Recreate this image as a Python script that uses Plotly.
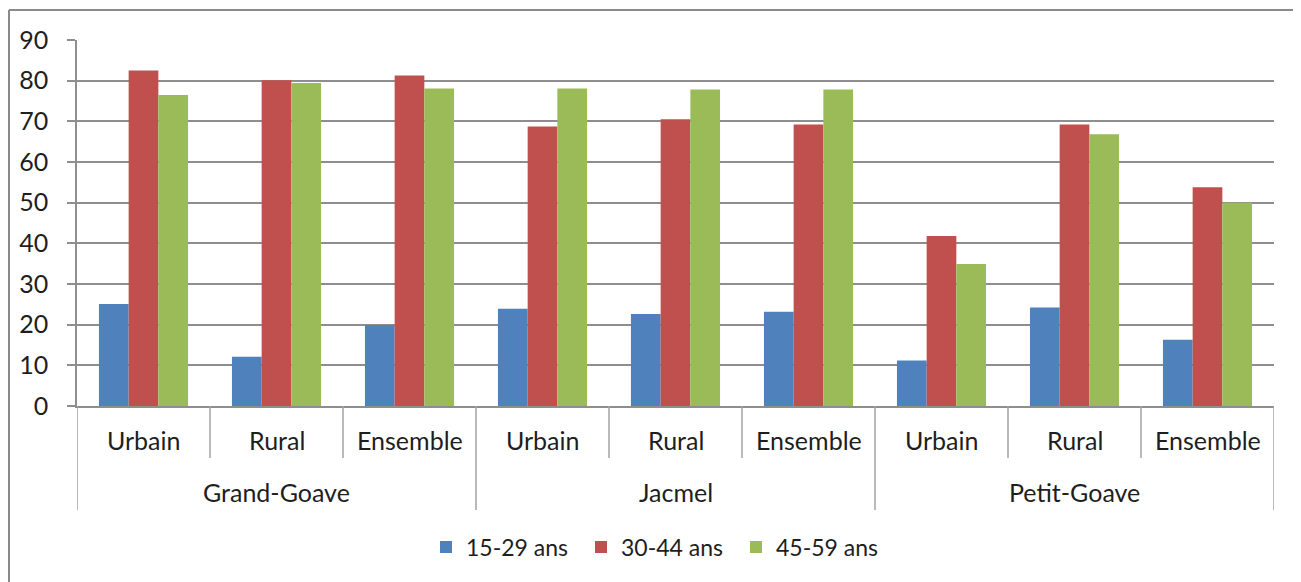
import plotly.graph_objects as go

groups = ["Grand-Goave", "Jacmel", "Petit-Goave"]
zones = ["Urbain", "Rural", "Ensemble"]
series_names = ["15-29 ans", "30-44 ans", "45-59 ans"]
v_15_29 = [25.1, 12.1, 19.9, 23.9, 22.6, 23.2, 11.2, 24.2, 16.3]
v_30_44 = [82.5, 80.1, 81.3, 68.7, 70.5, 69.2, 41.8, 69.2, 53.8]
v_45_59 = [76.5, 79.4, 78.1, 78.1, 77.8, 77.8, 34.9, 66.8, 50.0]
colors = ["#4F81BD", "#C0504D", "#9BBB59"]

# the page has an 8px body margin, so the figure is drawn at (8, 8)
OFF = 8
W, H = 1301, 582
ML, MT = 77 - OFF, 40 - OFF
PW, PH = 1197, 366
MR = W - ML - PW
MB = H - MT - PH

def py(px_below_axis):
    return -px_below_axis / PH

def px_x(page_x):
    return (page_x - OFF - ML) / PW

def px_y(page_y):
    return (MT + PH - (page_y - OFF)) / PH

labels_x = [f"{g} {z}" for g in groups for z in zones]
idx = list(range(len(labels_x)))

fig = go.Figure()
for name, vals, col in zip(series_names, [v_15_29, v_30_44, v_45_59], colors):
    fig.add_trace(go.Bar(x=idx, y=vals, name=name, marker=dict(color=col, line=dict(width=0))))

font = "Lato, 'Open Sans', sans-serif"
txt = "#1E1E1E"
grid = "#8E8E8E"
sep = "#A3A3A3"
FS = 25

annotations = []
for gi, g in enumerate(groups):
    for zi, z in enumerate(zones):
        annotations.append(dict(x=gi * len(zones) + zi, y=py(34), xref="x", yref="paper",
                                text=z, showarrow=False, yanchor="middle",
                                font=dict(family=font, size=FS, color=txt)))
    annotations.append(dict(x=gi * len(zones) + (len(zones) - 1) / 2, y=py(86), xref="x", yref="paper",
                            text=g, showarrow=False, yanchor="middle",
                            font=dict(family=font, size=FS, color=txt)))

shapes = []
n = len(labels_x)
for i in range(n + 1):
    is_group = (i % len(zones) == 0)
    shapes.append(dict(type="line", xref="x", yref="paper", x0=i - 0.5, x1=i - 0.5,
                       y0=0, y1=py(104 if is_group else 52),
                       line=dict(color=sep, width=1.5)))
# outer chart frame: only top and left edges are visible
frame = dict(color="#8A8A8A", width=2)
shapes.append(dict(type="line", xref="paper", yref="paper",
                   x0=px_x(9), x1=px_x(1320), y0=px_y(10), y1=px_y(10), line=frame))
shapes.append(dict(type="line", xref="paper", yref="paper",
                   x0=px_x(9), x1=px_x(9), y0=px_y(10), y1=px_y(620), line=frame))

fig.update_layout(
    width=W, height=H,
    margin=dict(l=ML, r=MR, t=MT, b=MB),
    paper_bgcolor="white", plot_bgcolor="white",
    barmode="group", bargap=0.33, bargroupgap=0,
    font=dict(family=font, size=FS, color=txt),
    showlegend=True,
    legend=dict(orientation="h", x=px_x(426), xanchor="left", y=py(141), yanchor="middle",
                entrywidth=110, entrywidthmode="pixels", itemwidth=30,
                font=dict(family=font, size=23, color=txt), bgcolor="rgba(0,0,0,0)"),
    xaxis=dict(range=[-0.5, n - 0.5], showticklabels=False, ticks="", showgrid=False,
               zeroline=False, showline=True, linecolor=grid, linewidth=1.5, fixedrange=True),
    yaxis=dict(range=[0, 90], dtick=10, tick0=0, showgrid=True, gridcolor=grid, gridwidth=1.5,
               ticks="outside", ticklen=8, tickcolor=grid, tickwidth=1.5,
               showline=True, linecolor=grid, linewidth=1.5, zeroline=False,
               ticklabelstandoff=14, tickfont=dict(family=font, size=FS, color=txt)),
    annotations=annotations,
    shapes=shapes,
)

fig.write_html("out.html")
